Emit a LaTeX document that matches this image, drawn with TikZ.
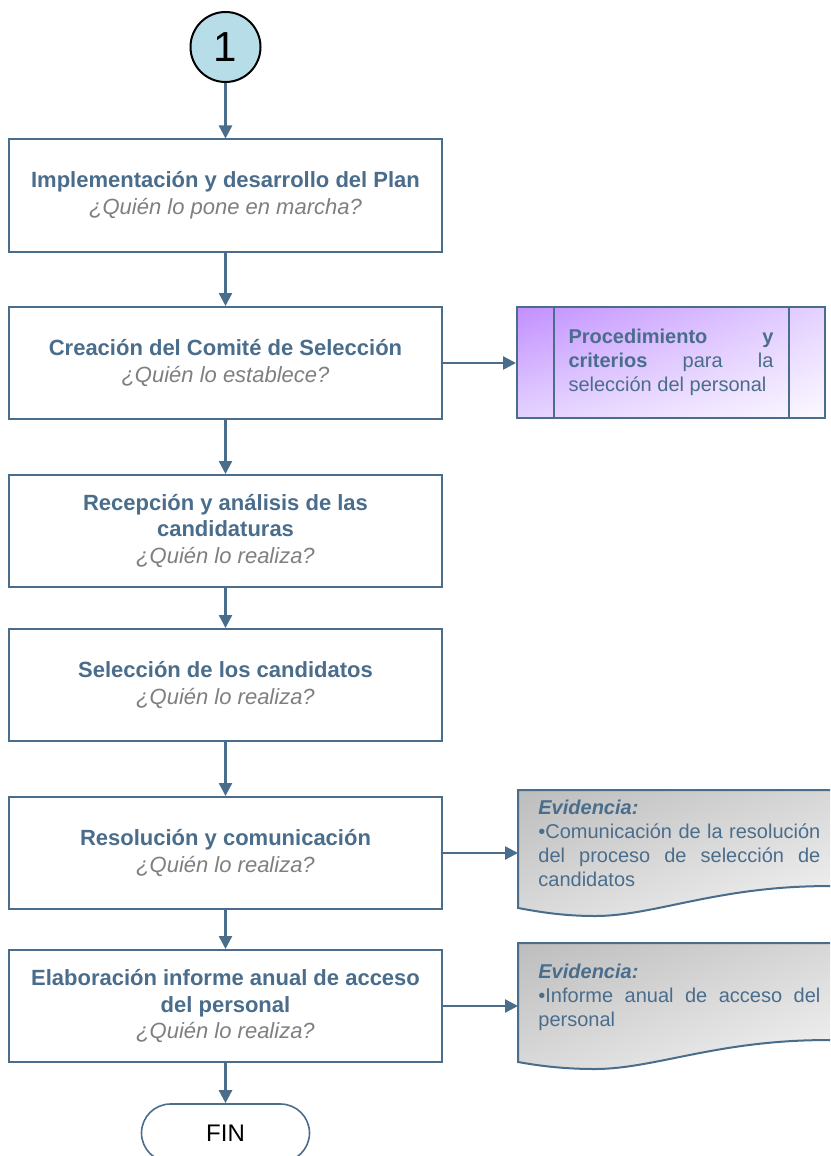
\documentclass[tikz,border=0pt]{standalone}
\usepackage{fontspec}
\setmainfont{Liberation Sans}
\usetikzlibrary{arrows.meta,shapes.misc,calc,shadings}
\definecolor{lb}{HTML}{4A6D8C}
\definecolor{tgray}{HTML}{7F7F7F}
\definecolor{teal1}{HTML}{B7DEE8}
\definecolor{purpA}{HTML}{C28FFF}
\definecolor{purpB}{HTML}{E4D2FF}
\definecolor{purpC}{HTML}{FCF9FF}
\definecolor{grayA}{HTML}{BDBDBD}
\definecolor{grayB}{HTML}{D9D9D9}
\definecolor{grayC}{HTML}{F6F6F6}
\newcommand\qline[1]{{\color{tgray}\itshape #1}}
\begin{document}
\begin{tikzpicture}[x=0.5pt,y=-0.5pt,
  stepbox/.style={draw=lb,line width=1pt,minimum width=216.5pt,minimum height=56pt,
    inner sep=0pt,align=center,font=\fontsize{11}{13.3}\selectfont,text=lb},
  conn/.style={draw=lb,line width=1.2pt,-{Triangle[width=6.5pt,length=6.5pt]}},
  doc/.style={draw=lb,line width=1pt,upper left=grayA,upper right=grayB,lower left=grayB,lower right=grayC},
  doctext/.style={anchor=north west,inner sep=0pt,text=lb,font=\fontsize{10}{12}\selectfont}
]
\fill[white] (0,0) rectangle (830,1156);
\clip (0,0) rectangle (830,1156);

% start circle
\node[circle,draw=black,line width=1pt,fill=teal1,minimum size=35pt,inner sep=0pt,
  font=\fontsize{21}{21}\selectfont] (c1) at (225.5,47) {1};

% process boxes
\node[stepbox] (b1) at (225.5,195.5) {\textbf{Implementación y desarrollo del Plan}\\\qline{¿Quién lo pone en marcha?}};
\node[stepbox] (b2) at (225.5,363) {\textbf{Creación del Comité de Selección}\\\qline{¿Quién lo establece?}};
\node[stepbox] (b3) at (225.5,531) {\textbf{Recepción y análisis de las}\\\textbf{candidaturas}\\\qline{¿Quién lo realiza?}};
\node[stepbox] (b4) at (225.5,685) {\textbf{Selección de los candidatos}\\\qline{¿Quién lo realiza?}};
\node[stepbox] (b5) at (225.5,853) {\textbf{Resolución y comunicación}\\\qline{¿Quién lo realiza?}};
\node[stepbox] (b6) at (225.5,1006) {\textbf{Elaboración informe anual de acceso}\\\textbf{del personal}\\\qline{¿Quién lo realiza?}};

% end terminal
\node[rounded rectangle,draw=lb,line width=0.8pt,minimum width=84pt,minimum height=29pt,
  inner sep=0pt,font=\fontsize{12}{12}\selectfont] (fin) at (225.5,1133) {FIN};

% predefined process (purple)
\node[draw=lb,line width=1pt,minimum width=154pt,minimum height=55.5pt,inner sep=0pt,
  upper left=purpA,upper right=purpB,lower left=purpB,lower right=purpC,text=lb,
  font=\fontsize{10}{12}\selectfont] (p) at (671,362.5)
  {\parbox{102.5pt}{\textbf{Procedimiento}\hfill\textbf{y}\\
   \textbf{criterios}\hfill para\hfill la\\
   selección del personal}};
\draw[lb,line width=1pt] ($(p.north west)+(38,0)$) -- ($(p.south west)+(38,0)$);
\draw[lb,line width=1pt] ($(p.north east)+(-37,0)$) -- ($(p.south east)+(-37,0)$);

% documents
\path[doc] (518,790) -- (860,790) -- (860,887)
  .. controls (730,880) and (660,916) .. (595,916)
  .. controls (560,916) and (535,911) .. (518,908) -- cycle;
\coordinate (d1) at (518,853);
\node[doctext] (e1) at (538,800) {\parbox{141pt}{\textbf{\textit{Evidencia:}}\\
  •Comunicación\hfill de\hfill la\hfill resolución\\
  del\hfill proceso\hfill de\hfill selección\hfill de\\
  candidatos}};

\path[doc] (518,943) -- (860,943) -- (860,1041)
  .. controls (730,1034) and (660,1069) .. (595,1069)
  .. controls (560,1069) and (535,1065) .. (518,1062) -- cycle;
\coordinate (d2) at (518,1007);
\node[doctext] (e2) at (538,964) {\parbox{141pt}{\textbf{\textit{Evidencia:}}\\
  •Informe\hfill anual\hfill de\hfill acceso\hfill del\\
  personal}};

% connectors
\draw[conn] (c1.south) -- (b1.north);
\draw[conn] (b1.south) -- (b2.north);
\draw[conn] (b2.south) -- (b3.north);
\draw[conn] (b3.south) -- (b4.north);
\draw[conn] (b4.south) -- (b5.north);
\draw[conn] (b5.south) -- (b6.north);
\draw[conn] (b6.south) -- (fin.north);
\draw[conn] (b2.east) -- (b2.east -| p.west);
\draw[conn] (b5.east) -- (b5.east -| d1);
\draw[conn] (b6.east) -- (b6.east -| d2);
\end{tikzpicture}
\end{document}
